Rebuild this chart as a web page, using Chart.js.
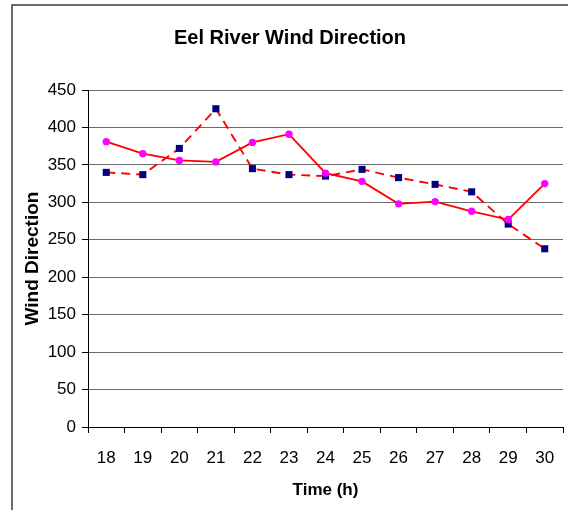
<!DOCTYPE html>
<html>
<head>
<meta charset="utf-8">
<script src="https://cdn.jsdelivr.net/npm/chart.js@4/dist/chart.umd.min.js"></script>
<style>
  html, body { margin: 0; padding: 0; background: #fff; }
  #wrap { width: 568px; height: 510px; }
</style>
</head>
<body>
<div id="wrap"><canvas id="c" width="568" height="510"></canvas></div>
<script>
// Hours of the observation window
const hours = ['18', '19', '20', '21', '22', '23', '24', '25', '26', '27', '28', '29', '30'];
// Wind direction series (degrees)
const seriesA = [381, 365, 356, 354, 380, 391, 339, 328, 298, 301, 288, 277, 325];
const seriesB = [340, 337, 372, 425, 345, 337, 335, 344, 333, 324, 314, 271, 238];
// Y axis ticks
const yTicks = [0, 50, 100, 150, 200, 250, 300, 350, 400, 450];

const FONT = "'Liberation Sans', Arial, sans-serif";

// Frame around the chart (left and top edges visible)
const framePlugin = {
  id: 'frame',
  beforeDraw(chart) {
    const ctx = chart.ctx;
    ctx.save();
    ctx.fillStyle = '#fff';
    ctx.fillRect(0, 0, chart.width, chart.height);
    ctx.strokeStyle = '#3a3a3a';
    ctx.lineWidth = 1.5;
    ctx.beginPath();
    ctx.moveTo(12, chart.height + 5);
    ctx.lineTo(12, 5);
    ctx.lineTo(chart.width + 5, 5);
    ctx.stroke();
    ctx.restore();
  }
};

new Chart(document.getElementById('c'), {
  type: 'line',
  data: {
    labels: hours,
    datasets: [
      {
        label: 'A',
        data: seriesA,
        borderColor: '#ff0000',
        borderWidth: 1.9,
        pointStyle: 'circle',
        pointRadius: 3.7,
        pointBackgroundColor: '#ff00ff',
        pointBorderColor: '#ff00ff',
        pointBorderWidth: 0,
        tension: 0,
        fill: false
      },
      {
        label: 'B',
        data: seriesB,
        borderColor: '#ff0000',
        borderWidth: 1.9,
        borderDash: [9, 6],
        pointStyle: 'rect',
        pointRadius: 5,
        pointBackgroundColor: '#000080',
        pointBorderColor: '#000080',
        pointBorderWidth: 0,
        tension: 0,
        fill: false
      }
    ]
  },
  options: {
    responsive: false,
    animation: false,
    events: [],
    layout: { padding: { left: 14, right: 2, top: 0, bottom: 0 } },
    plugins: {
      legend: { display: false },
      tooltip: { enabled: false },
      title: {
        display: true,
        text: 'Eel River Wind Direction',
        color: '#000',
        font: { family: FONT, size: 20, weight: 'bold' },
        padding: { top: 26, bottom: 40 }
      }
    },
    scales: {
      x: {
        type: 'category',
        offset: true,
        afterFit(scale) {
          scale.height = 83;
          scale.paddingLeft = 0;
          scale.paddingRight = 0;
        },
        grid: {
          offset: true,
          drawOnChartArea: false,
          drawTicks: true,
          tickLength: 6,
          color: '#000'
        },
        border: { display: true, color: '#000', width: 1 },
        ticks: {
          color: '#000',
          padding: 15,
          maxRotation: 0,
          autoSkip: false,
          font: { family: FONT, size: 17 }
        },
        title: {
          display: true,
          text: 'Time (h)',
          color: '#000',
          font: { family: FONT, size: 17, weight: 'bold' },
          padding: { top: 0, bottom: 9 }
        }
      },
      y: {
        min: 0,
        max: 450,
        afterFit(scale) { scale.width = 74; },
        afterBuildTicks(scale) { scale.ticks = yTicks.map(v => ({ value: v })); },
        grid: {
          color: '#6a6a6a',
          lineWidth: 1,
          drawTicks: true,
          tickLength: 6,
          tickColor: '#000'
        },
        border: { display: true, color: '#000', width: 1 },
        ticks: {
          color: '#000',
          padding: 6,
          font: { family: FONT, size: 17 }
        },
        title: {
          display: true,
          text: 'Wind Direction',
          color: '#000',
          font: { family: FONT, size: 19, weight: 'bold' },
          padding: { top: 7, bottom: 0 }
        }
      }
    }
  },
  plugins: [framePlugin]
});
</script>
</body>
</html>
